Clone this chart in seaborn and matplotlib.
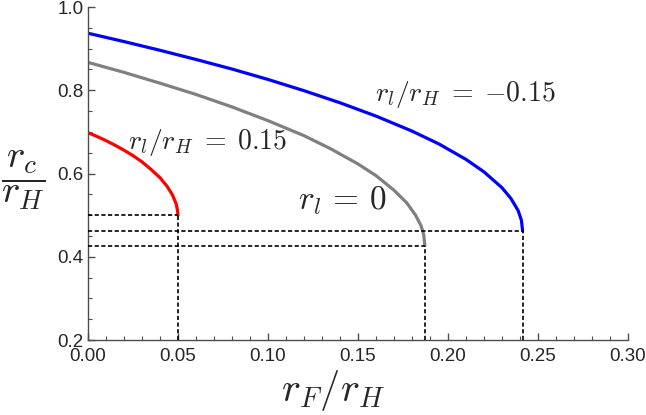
import pandas as pd
import matplotlib
matplotlib.use("Agg")
import matplotlib.pyplot as plt
import seaborn as sns
from matplotlib.ticker import MultipleLocator, FormatStrFormatter

# curves (r_F/r_H, r_c/r_H)
red_x = [0.0, 0.005, 0.010, 0.015, 0.020, 0.025, 0.030, 0.035, 0.040, 0.044,
         0.047, 0.049, 0.0497, 0.050]
red_y = [0.698, 0.689, 0.679, 0.668, 0.656, 0.643, 0.628, 0.610, 0.590, 0.569,
         0.548, 0.527, 0.512, 0.500]

gray_x = [0.0, 0.02, 0.04, 0.06, 0.08, 0.10, 0.12, 0.135, 0.15, 0.16, 0.17,
          0.177, 0.182, 0.185, 0.1865, 0.1872]
gray_y = [0.867, 0.843, 0.817, 0.790, 0.760, 0.727, 0.691, 0.659, 0.623, 0.595,
          0.560, 0.530, 0.500, 0.475, 0.454, 0.427]

blue_x = [0.0, 0.02, 0.04, 0.06, 0.08, 0.10, 0.12, 0.14, 0.16, 0.18, 0.195,
          0.21, 0.22, 0.23, 0.235, 0.239, 0.2408, 0.2415]
blue_y = [0.937, 0.917, 0.896, 0.874, 0.851, 0.826, 0.799, 0.770, 0.738, 0.702,
          0.671, 0.634, 0.604, 0.566, 0.540, 0.511, 0.488, 0.4625]

labels = [r"$r_l/r_H\;=\;0.15$", r"$r_l\,=\,0$", r"$r_l/r_H\;=\;{-}0.15$"]
colors = ["#ff0000", "#808080", "#0000ff"]

sns.set_style("ticks")
plt.rcParams["mathtext.fontset"] = "cm"
plt.rcParams["font.family"] = ["Liberation Sans", "DejaVu Sans"]

fig = plt.figure(figsize=(6.46, 4.15), dpi=100)
ax = fig.add_axes([0.1362, 0.1807, 0.8358, 0.8024])

curves = [(red_x, red_y), (gray_x, gray_y), (blue_x, blue_y)]
for (xs, ys), c in zip(curves, colors):
    df = pd.DataFrame({"rF": xs, "rc": ys})
    sns.lineplot(data=df, x="rF", y="rc", sort=False, color=c, linewidth=2.3, ax=ax)

# dashed guides from each curve's end point
for xs, ys in curves:
    ax.plot([0, xs[-1]], [ys[-1], ys[-1]], color="black", linestyle=(0, (2.5, 1.5)),
            linewidth=1.2, zorder=3)
    ax.plot([xs[-1], xs[-1]], [0.2, ys[-1]], color="black", linestyle=(0, (2.5, 1.5)),
            linewidth=1.2, zorder=3)

ax.set_xlim(0, 0.30)
ax.set_ylim(0.2, 1.0)
ax.xaxis.set_major_locator(MultipleLocator(0.05))
ax.xaxis.set_minor_locator(MultipleLocator(0.01))
ax.yaxis.set_major_locator(MultipleLocator(0.2))
ax.yaxis.set_minor_locator(MultipleLocator(0.05))
ax.xaxis.set_major_formatter(FormatStrFormatter("%.2f"))
ax.yaxis.set_major_formatter(FormatStrFormatter("%.1f"))
ax.tick_params(which="major", direction="in", length=5, width=1, color="0.3",
               labelsize=13.5)
ax.tick_params(axis="x", which="major", pad=6)
ax.tick_params(axis="y", which="major", pad=3)
ax.tick_params(which="minor", direction="in", length=3, width=0.8, color="0.3")
for s in ["top", "right"]:
    ax.spines[s].set_visible(False)
for s in ["left", "bottom"]:
    ax.spines[s].set_color("0.3")
    ax.spines[s].set_linewidth(1.0)
ax.set_xlabel("")
ax.set_ylabel("")

ax.text(0.0225, 0.675, labels[0], fontsize=20, ha="left", va="center")
ax.text(0.1167, 0.534, labels[1], fontsize=24, ha="left", va="center")
ax.text(0.1594, 0.791, labels[2], fontsize=20, ha="left", va="center")

fig.text(333 / 646, 1 - 390 / 415, r"$r_F/r_H$", fontsize=29, ha="center", va="center")
fig.text(23 / 646, 1 - 180 / 415, r"$\dfrac{r_c}{r_H}$", fontsize=28, ha="center", va="center")

fig.savefig("out.png", dpi=100)
